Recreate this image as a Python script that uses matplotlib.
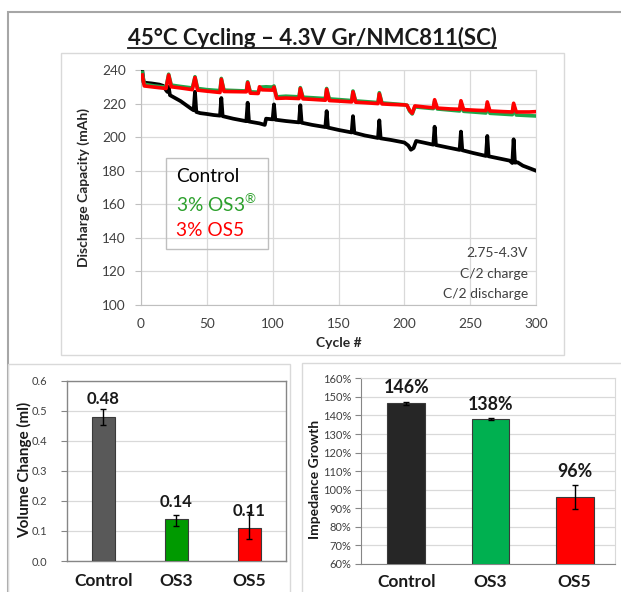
import matplotlib
matplotlib.use('Agg')
import matplotlib.pyplot as plt
from matplotlib.lines import Line2D
from matplotlib.patches import Rectangle
import numpy as np

plt.rcParams['font.family'] = ['Lato', 'DejaVu Sans']

# ---------------- data ----------------
title_text = "45°C Cycling – 4.3V Gr/NMC811(SC)"

ctrl_cycles = [1, 2, 8, 14, 17, 19, 20, 21, 22, 30, 38, 40, 41, 42, 45, 50, 55, 60, 61, 62,
               70, 80, 81, 82, 90, 94, 95, 100, 101, 102, 110, 120, 121, 122, 130, 140, 141, 142,
               150, 160, 161, 162, 170, 180, 181, 182, 190, 200, 203, 205, 207, 209, 215, 222,
               223, 224, 232, 242, 243, 244, 252, 262, 263, 264, 272, 280, 282, 283, 284, 286,
               290, 295, 300]
ctrl_caps = [239.5, 232.5, 232.0, 231.3, 230.5, 228.0, 227.0, 230.0, 225.0, 221.5, 217.0, 216.0, 227.0, 215.0,
             214.3, 213.8, 213.2, 212.8, 223.3, 212.5, 211.0, 209.5, 220.5, 209.3, 208.2, 207.3, 211.0,
             210.6, 219.5, 210.4, 209.6, 208.8, 219.0, 208.6, 207.3, 206.0, 215.5, 205.7, 204.3, 202.8,
             212.5, 202.6, 201.0, 199.5, 210.0, 199.3, 198.3, 196.8, 195.0, 192.5, 193.5, 197.7, 196.7,
             195.5, 206.2, 195.3, 194.0, 192.4, 203.3, 192.2, 190.6, 188.8, 200.7, 188.6, 187.3, 186.0,
             184.6, 198.7, 184.8, 185.0, 183.0, 181.5, 180.0]

os3_cycles = [1, 2.5, 10, 19, 21, 23, 30, 39, 41, 43, 50, 60, 61, 63, 80, 81, 83, 89, 91, 95, 100,
              101, 103, 110, 120, 121, 123, 140, 141, 143, 160, 161, 163, 180, 181, 183, 200, 202,
              204, 206, 208, 222, 223, 225, 242, 243, 245, 262, 263, 265, 282, 283, 285, 300]
os3_caps = [238.5, 231.5, 230.5, 229.8, 237.5, 231.0, 230.2, 229.3, 236.0, 229.0, 228.3, 227.7, 235.0,
            228.0, 227.5, 233.0, 227.0, 226.8, 229.8, 230.0, 229.8, 230.5, 224.0, 224.4, 224.0, 229.5,
            223.8, 223.0, 229.0, 222.8, 221.8, 227.5, 221.6, 220.6, 226.5, 220.4, 219.3, 219.0, 215.5,
            213.8, 218.0, 217.0, 221.5, 216.8, 215.6, 220.8, 215.4, 214.4, 219.8, 214.2, 213.4, 219.0,
            213.2, 212.6]

os5_cycles = [1, 2.5, 10, 19, 21, 23, 30, 39, 41, 43, 50, 60, 61, 63, 80, 81, 83, 89, 90, 92, 100,
              101, 103, 110, 120, 121, 123, 130, 140, 141, 143, 150, 160, 161, 163, 170, 180, 181,
              183, 190, 200, 202, 204, 206, 208, 215, 222, 223, 225, 235, 242, 243, 245, 255, 262,
              263, 265, 275, 282, 283, 285, 295, 300]
os5_caps = [237.0, 230.5, 229.8, 229.0, 237.0, 230.0, 229.3, 228.3, 235.5, 228.0, 227.4, 226.6, 234.5,
            227.2, 227.0, 232.5, 226.2, 226.0, 230.0, 228.2, 228.0, 229.8, 223.1, 223.3, 223.0, 229.0,
            222.8, 222.5, 222.0, 228.5, 221.8, 221.5, 221.0, 227.0, 220.8, 220.5, 220.0, 225.8, 219.8,
            219.5, 219.2, 219.0, 216.0, 214.2, 218.6, 218.0, 217.5, 222.3, 217.3, 216.8, 216.6, 221.7,
            216.4, 216.0, 215.8, 221.0, 215.6, 215.2, 215.0, 220.2, 215.0, 215.0, 215.2]

legend_labels = ["Control", "3% OS3", "3% OS5"]
cond_lines = ["2.75-4.3V", "C/2 charge", "C/2 discharge"]

bar_categories = ["Control", "OS3", "OS5"]
vol_values = [0.48, 0.14, 0.11]
vol_err_low = [0.027, 0.025, 0.036]
vol_err_high = [0.025, 0.014, 0.052]
vol_labels = ["0.48", "0.14", "0.11"]

imp_values = [146.5, 138.0, 96.0]
imp_err = [1.0, 0.5, 6.3]
imp_labels = ["146%", "138%", "96%"]

# ---------------- styling ----------------
W, H, DPI = 621, 592, 100
C_BLACK = '#000000'
C_GREEN = '#1ea84a'
C_RED = '#ff0000'
GRID = '#d9d9d9'
TXT = '#404040'

fig = plt.figure(figsize=(W / DPI, H / DPI), dpi=DPI)
fig.patch.set_facecolor('white')


def ax_rect(l, t, r, b):
    return [l / W, 1 - b / H, (r - l) / W, (b - t) / H]


def frame(l, t, r, b, color, lw):
    fig.add_artist(Rectangle((l / W, 1 - b / H), (r - l) / W, (b - t) / H,
                             transform=fig.transFigure, fill=False,
                             edgecolor=color, lw=lw))


def ftext(x, y, s, **kw):
    return fig.text(x / W, 1 - y / H, s, **kw)


# frames
frame(7.5, 11.5, 700, 700, '#a6a6a6', 1.5)
frame(61, 53, 564, 355, GRID, 1.0)
frame(7.5, 364, 290, 700, GRID, 1.0)
frame(302, 363, 700, 700, GRID, 1.0)

# ---------------- top chart ----------------
ax = fig.add_axes(ax_rect(141, 70, 536, 305))
ax.plot(ctrl_cycles, ctrl_caps, color=C_BLACK, lw=2.7, zorder=3)
ax.plot(os3_cycles, os3_caps, color=C_GREEN, lw=2.6, zorder=4)
ax.plot(os5_cycles, os5_caps, color=C_RED, lw=2.6, zorder=5)
ax.set_xlim(0, 300)
ax.set_ylim(100, 240)
ax.set_xticks(np.arange(0, 301, 50))
ax.set_yticks(np.arange(100, 241, 20))
ax.grid(True, color=GRID, lw=0.9)
ax.set_axisbelow(True)
for s in ['top', 'right']:
    ax.spines[s].set_color(GRID)
for s in ['left', 'bottom']:
    ax.spines[s].set_color('#bfbfbf')
ax.tick_params(axis='y', length=4, color='#bfbfbf', labelsize=9.8, labelcolor=TXT, pad=7)
ax.tick_params(axis='x', length=0, labelsize=9.8, labelcolor=TXT, pad=9)

ftext(83.3, 187.5, "Discharge Capacity (mAh)", rotation=90, ha='center', va='center',
      fontsize=10, fontweight='bold', color='#262626')
ftext(339, 343, "Cycle #", ha='center', va='center', fontsize=10, fontweight='bold', color='#262626')

# legend box
frame(166, 158, 268, 249, '#bfbfbf', 1.0)
leg_colors = [C_BLACK, '#2ca02c', C_RED]
for i, (lab, col) in enumerate(zip(legend_labels, leg_colors)):
    t = lab + (r"$^{\mathregular{®}}$" if i == 1 else "")
    ftext(176.5, 177 + 27 * i, t, ha='left', va='center', fontsize=13.8, color=col)

for i, line in enumerate(cond_lines):
    ftext(528, 253 + 20.5 * i, line, ha='right', va='center', fontsize=10, color=TXT)

# title with underline
title = ftext(312, 45, title_text, ha='center', va='baseline', fontsize=15,
              fontweight='bold', color='#1a1a1a')
fig.canvas.draw()
bb = title.get_window_extent()
scale = 370.0 / bb.width
title.set_fontsize(15 * scale)
fig.canvas.draw()
bb = title.get_window_extent()
uy = (H - 47.7) / H
fig.add_artist(Line2D([bb.x0 / W, bb.x1 / W], [uy, uy], transform=fig.transFigure,
                      color='#1a1a1a', lw=1.3))

# ---------------- bottom-left chart ----------------
ax2 = fig.add_axes(ax_rect(66.7, 380.7, 286, 561))
xpos = np.arange(len(bar_categories))
ax2.bar(xpos, vol_values, width=0.315, color=['#595959', '#009a00', C_RED],
        edgecolor='#3a3a3a', lw=0.8,
        yerr=[vol_err_low, vol_err_high], capsize=2.5,
        error_kw=dict(elinewidth=1.0, capthick=1.0, ecolor='black'), zorder=3)
ax2.set_xlim(-0.5, 2.5)
ax2.set_ylim(0, 0.6)
ax2.set_yticks(np.arange(0, 0.61, 0.1))
ax2.set_yticklabels([f"{v:.1f}" for v in np.arange(0, 0.61, 0.1)])
ax2.set_xticks(xpos)
ax2.set_xticklabels(bar_categories, fontweight='bold', fontsize=12.5, color='#1a1a1a')
ax2.grid(True, axis='y', color=GRID, lw=0.9)
ax2.set_axisbelow(True)
for s in ax2.spines.values():
    s.set_color('#868686')
    s.set_linewidth(1.0)
ax2.tick_params(axis='y', length=4, color='#868686', labelsize=8, labelcolor=TXT, pad=10)
ax2.tick_params(axis='x', length=0, pad=8.5)
for i, (v, lab) in enumerate(zip(vol_values, vol_labels)):
    ax2.annotate(lab, (i, v), xytext=(0, 12.5), textcoords='offset points',
                 ha='center', va='center', fontsize=12, fontweight='bold', color='#1a1a1a', zorder=5)
ftext(25, 470, "Volume Change (ml)", rotation=90, ha='center', va='center',
      fontsize=11, fontweight='bold', color='#1a1a1a')

# ---------------- bottom-right chart ----------------
ax3 = fig.add_axes(ax_rect(361, 378.3, 615, 564))
ax3.bar(xpos, imp_values, width=0.45, color=['#262626', '#00b050', C_RED],
        edgecolor='#3a3a3a', lw=0.8,
        yerr=imp_err, capsize=2.5,
        error_kw=dict(elinewidth=1.0, capthick=1.0, ecolor='black'), zorder=3)
ax3.set_xlim(-0.54, 2.48)
ax3.set_ylim(60, 160)
ax3.set_yticks(np.arange(60, 161, 10))
ax3.set_yticklabels([f"{v}%" for v in range(60, 161, 10)])
ax3.set_xticks(xpos)
ax3.set_xticklabels(bar_categories, fontweight='bold', fontsize=12.5, color='#1a1a1a')
ax3.grid(True, axis='y', color=GRID, lw=0.9)
ax3.set_axisbelow(True)
for s in ['top', 'right']:
    ax3.spines[s].set_color(GRID)
for s in ['left', 'bottom']:
    ax3.spines[s].set_color('#868686')
ax3.tick_params(axis='y', length=4, color='#868686', labelsize=8, labelcolor=TXT, pad=3)
ax3.tick_params(axis='x', length=0, pad=7.5)
for i, (v, e, lab) in enumerate(zip(imp_values, imp_err, imp_labels)):
    ax3.annotate(lab, (i, v + e), xytext=(0, 10), textcoords='offset points',
                 ha='center', va='center', fontsize=12.8, fontweight='bold', color='#1a1a1a', zorder=5)
ftext(315, 479, "Impedance Growth", rotation=90, ha='center', va='center',
      fontsize=10, fontweight='bold', color='#1a1a1a')

fig.savefig('out.png', dpi=DPI, facecolor='white')
